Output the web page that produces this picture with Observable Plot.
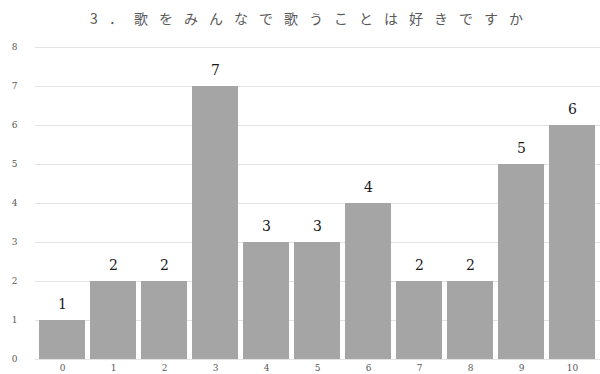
<!DOCTYPE html>
<html>
<head>
<meta charset="utf-8">
<script src="https://cdn.jsdelivr.net/npm/d3@7"></script>
<script src="https://cdn.jsdelivr.net/npm/@observablehq/plot@0.6"></script>
<style>
  html, body { margin: 0; padding: 0; background: #fff; }
  #title {
    width: 600px; height: 36px; line-height: 36px; text-align: center;
    font-family: "Noto Sans CJK JP", sans-serif; font-size: 14px;
    letter-spacing: 11px; color: #5a5a5a; padding-left: 24px; box-sizing: border-box;
    white-space: nowrap;
  }
</style>
</head>
<body>
<div id="title">3．歌をみんなで歌うことは好きですか</div>
<div id="chart"></div>
<script>
const categories = ["0", "1", "2", "3", "4", "5", "6", "7", "8", "9", "10"];
const counts = [1, 2, 2, 7, 3, 3, 4, 2, 2, 5, 6];
const yTicks = [0, 1, 2, 3, 4, 5, 6, 7, 8];

const data = categories.map((c, i) => ({category: c, count: counts[i]}));

const chart = Plot.plot({
  width: 600,
  height: 338,
  marginLeft: 35,
  marginRight: 0,
  marginTop: 11,
  marginBottom: 15,
  style: {background: "#fff"},
  x: {domain: categories, paddingInner: 0.09, paddingOuter: 0.04, label: null},
  y: {domain: [0, 8], label: null},
  marks: [
    Plot.ruleY(yTicks, {stroke: "#e3e3e3", strokeWidth: 1}),
    Plot.barY(data, {x: "category", y: "count", fill: "#a5a5a5"}),
    Plot.text(data, {x: "category", y: "count", text: d => String(d.count), dy: -16,
      fontFamily: "DejaVu Serif", fontSize: 14, fill: "#1a1a1a"}),
    Plot.axisY({ticks: yTicks, tickSize: 0, tickPadding: 21, textAnchor: "middle",
      fontFamily: "DejaVu Serif", fontSize: 9, color: "#595959", label: null}),
    Plot.axisX({tickSize: 0, tickPadding: 5, fontFamily: "DejaVu Serif", fontSize: 9,
      color: "#595959", label: null})
  ]
});
document.getElementById("chart").appendChild(chart);
</script>
</body>
</html>
